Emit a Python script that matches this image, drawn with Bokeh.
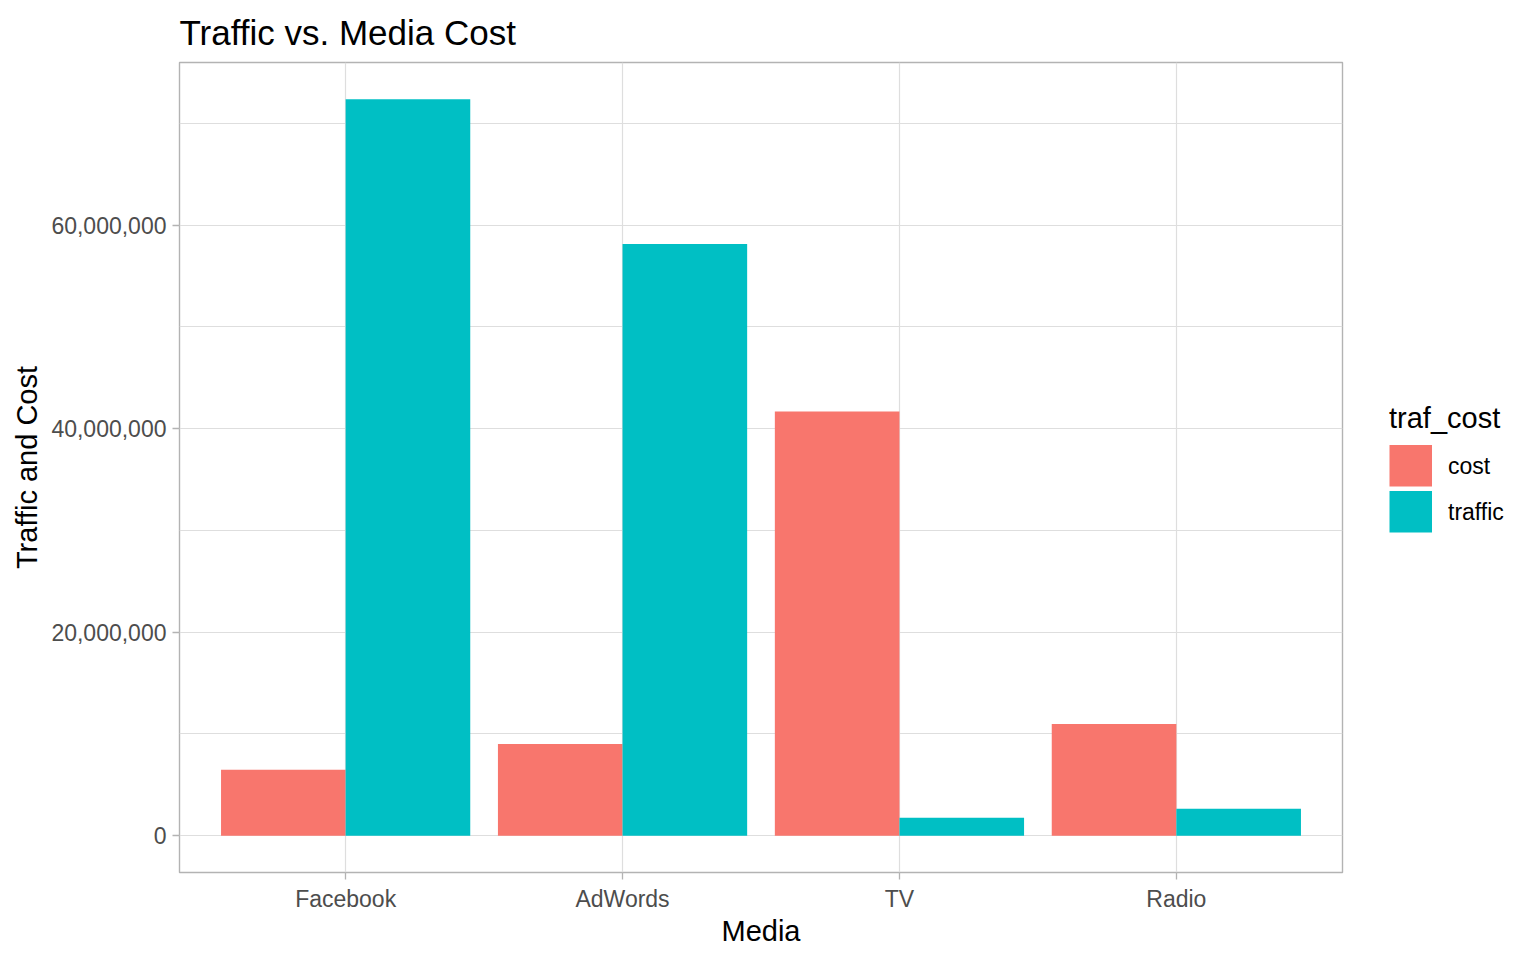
from bokeh.plotting import figure
from bokeh.models import (Range1d, FixedTicker, NumeralTickFormatter, Legend,
                          LegendItem, ColumnDataSource)
from bokeh.embed import file_html
from bokeh.resources import INLINE

media = ["Facebook", "AdWords", "TV", "Radio"]
cost = [6.47e6, 9.02e6, 41.67e6, 10.98e6]
traffic = [72.35e6, 58.14e6, 1.76e6, 2.65e6]
series = ["cost", "traffic"]
colors = ["#F8766D", "#00BFC4"]
y_ticks = [0, 20e6, 40e6, 60e6]
y_minor = [10e6, 30e6, 50e6, 70e6]

FONT = "Liberation Sans"
pos = [i + 1 for i in range(len(media))]
dodge = 0.9
bw = dodge / len(series)

ymax = max(cost + traffic)
p = figure(width=1520, height=944, output_backend="svg", toolbar_location=None,
           x_range=Range1d(0.4, len(media) + 0.6),
           y_range=Range1d(-0.05 * ymax, 1.05 * ymax),
           min_border_left=179, min_border_top=62, min_border_right=178,
           min_border_bottom=72)
p.frame_width = 1163
p.frame_height = 810

src = ColumnDataSource(dict(
    xc=[x - bw / 2 for x in pos], xt=[x + bw / 2 for x in pos],
    cost=cost, traffic=traffic))
p.vbar(x="xc", top="cost", bottom=0, width=bw, source=src,
       fill_color=colors[0], line_color=None)
p.vbar(x="xt", top="traffic", bottom=0, width=bw, source=src,
       fill_color=colors[1], line_color=None)

# legend keys (invisible placeholder lines drawn only in the legend)
nan = float("nan")
items = []
for s, c in zip(series, colors):
    r = p.line(x=[nan], y=[nan], line_color=c, line_width=42, line_cap="butt")
    items.append(LegendItem(label=s, renderers=[r]))
legend = Legend(items=items, location="center_left", title="traf_cost",
                title_text_font=FONT, title_text_font_size="29px",
                title_text_font_style="normal", title_text_color="black",
                title_standoff=10,
                label_text_font=FONT, label_text_font_size="23px",
                label_text_color="black", label_standoff=16,
                glyph_width=43, glyph_height=42, spacing=4,
                label_height=42,
                padding=0, margin=47, border_line_color=None,
                background_fill_alpha=0)
p.add_layout(legend, "right")

p.title.text = "Traffic vs. Media Cost"
p.title.text_font = FONT
p.title.text_font_size = "35px"
p.title.text_font_style = "normal"
p.title.text_color = "black"
p.title.align = "left"
p.title.offset = 0
p.title.standoff = 21

p.xaxis.ticker = FixedTicker(ticks=pos)
p.xaxis.major_label_overrides = {x: m for x, m in zip(pos, media)}
p.yaxis.ticker = FixedTicker(ticks=y_ticks, minor_ticks=y_minor)
p.yaxis.formatter = NumeralTickFormatter(format="0,0")

for ax in (p.xaxis, p.yaxis):
    ax.axis_line_color = None
    ax.major_tick_line_color = "#B3B3B3"
    ax.major_tick_line_width = 1.3
    ax.major_tick_out = 7
    ax.major_tick_in = 0
    ax.minor_tick_line_color = None
    ax.major_label_text_font = FONT
    ax.major_label_text_font_size = "23px"
    ax.major_label_text_color = "#4D4D4D"
    ax.major_label_standoff = 6
    ax.axis_label_text_font = FONT
    ax.axis_label_text_font_size = "29px"
    ax.axis_label_text_font_style = "normal"
    ax.axis_label_text_color = "black"
p.xaxis.axis_label = "Media"
p.yaxis.axis_label = "Traffic and Cost"
p.xaxis.axis_label_standoff = 0
p.yaxis.axis_label_standoff = 5

p.xgrid.grid_line_color = "#DEDEDE"
p.xgrid.grid_line_width = 1.2
p.ygrid.grid_line_color = "#DEDEDE"
p.ygrid.grid_line_width = 1.2
p.ygrid.minor_grid_line_color = "#DEDEDE"
p.ygrid.minor_grid_line_width = 1.0

p.outline_line_color = "#B3B3B3"
p.outline_line_width = 1.4
p.background_fill_color = "white"
p.border_fill_color = "white"

open("out.html", "w").write(file_html(p, INLINE))
